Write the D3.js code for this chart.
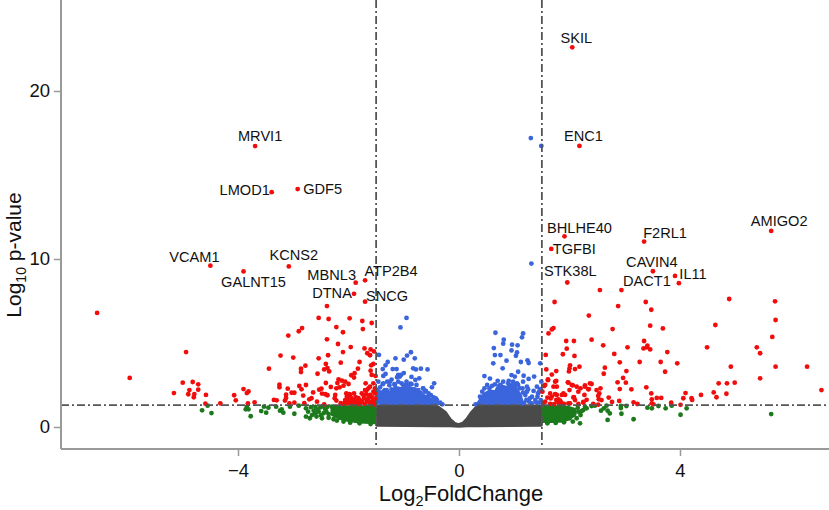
<!DOCTYPE html>
<html>
<head>
<meta charset="utf-8">
<script src="https://cdn.jsdelivr.net/npm/d3@7"></script>
<style>
  html, body { margin: 0; padding: 0; background: #fff; }
  svg { display: block; }
  text { font-family: "Liberation Sans", Arial, sans-serif; fill: #111; }
</style>
</head>
<body>
<svg width="829" height="510"></svg>
<script>
// thresholds
const foldCut = 1.5;
const pCut = 1.3;
const xTicks = [-4, 0, 4];
const yTicks = [0, 10, 20];

// labelled genes
const geneNames = ["MRVI1", "LMOD1", "GDF5", "VCAM1", "GALNT15", "KCNS2", "MBNL3", "ATP2B4", "DTNA", "SNCG",
    "SKIL", "ENC1", "BHLHE40", "TGFBI", "STK38L", "F2RL1", "CAVIN4", "DACT1", "IL11", "AMIGO2"];
const geneX = [-3.69, -3.39, -2.92, -4.5, -3.9, -3.08, -1.87, -1.7, -1.9, -1.7,
    2.05, 2.18, 1.91, 1.67, 1.96, 3.35, 3.51, 3.98, 3.91, 5.65];
const geneY = [16.72, 13.98, 14.16, 9.6, 9.26, 9.56, 8.59, 8.73, 7.93, 7.46,
    22.6, 16.73, 11.35, 10.6, 8.6, 11.04, 9.27, 8.56, 8.99, 11.67];

// the solid parts of the cloud, points too dense to read one by one: x, upper edge, lower edge
const greyEdgeX = [-1.49, -0.42, -0.38, -0.25, -0.16, -0.08, -0.01, 0.07, 0.14, 0.23, 0.32, 0.36, 1.49];
const greyTop = [1.24, 1.24, 1.2, 0.88, 0.46, 0.22, 0.14, 0.22, 0.46, 0.88, 1.2, 1.24, 1.24];
const greyBottom = [0.1, 0.08, 0.08, 0.08, 0.08, 0.06, 0.05, 0.06, 0.08, 0.08, 0.08, 0.08, 0.1];

const greenLeftX = [-2.3, -2.15, -2, -1.8, -1.52];
const greenLeftTop = [1.2, 1.2, 1.2, 1.2, 1.2];
const greenLeftBottom = [0.75, 0.5, 0.38, 0.3, 0.26];
const greenRightX = [1.52, 1.7, 1.9, 2, 2.1];
const greenRightTop = [1.2, 1.2, 1.2, 1.15, 1.05];
const greenRightBottom = [0.32, 0.32, 0.36, 0.5, 0.75];

const blueLeftX = [-1.44, -1.35, -1.25, -1.15, -1.05, -0.95, -0.85, -0.75, -0.65, -0.58, -0.5, -0.42, -0.36];
const blueLeftTop = [1.9, 2.25, 2.05, 2.35, 2.3, 2.4, 2.3, 2.15, 1.9, 1.75, 1.6, 1.45, 1.38];
const blueRightX = [0.33, 0.45, 0.56, 0.66, 0.72, 0.86, 0.98, 1.06, 1.12];
const blueRightTop = [1.35, 1.95, 2.15, 2.1, 2.5, 2.35, 2.6, 2.15, 1.85];

const redPoints = [
    [-6.55, 6.79], [-4.94, 4.46], [-5.96, 2.92], [-5, 2.64], [-4.82, 2.68], [-4.72, 2.54], [-4.88, 2.2], [-4.72, 2.22],
    [-5.16, 2.02], [-4.9, 1.95], [-4.79, 1.96], [-4.8, 1.77], [-4.58, 1.91], [-4.59, 1.39], [-4.32, 1.41], [-4.07, 1.89],
    [-4.04, 1.59], [-3.9, 2.26], [-3.81, 2.12], [-3.84, 2.02], [-3.82, 1.41], [-3.7, 1.47], [-3.44, 3.47], [-3.23, 4.25],
    [-3, 4.13], [-3.09, 5.44], [-2.9, 5.7], [-2.84, 5.89], [-2.54, 6.49], [-2.36, 6.43], [-2.39, 7.2], [-1.98, 6.47],
    [-1.75, 6.31], [-1.58, 6.19], [-1.74, 5.83], [-2.22, 5.95], [-2.1, 5.64], [-2.39, 5.22], [-2.19, 4.94], [-1.96, 4.76],
    [-2.1, 4.46], [-2.37, 4.27], [-2.54, 4.09], [-1.71, 4.68], [-1.6, 4.62], [-1.54, 4.5], [-1.66, 4.39], [-1.61, 4.27],
    [-1.8, 3.87], [-2.14, 3.83], [-2.41, 3.75], [-2.78, 3.65], [-2.86, 3.47], [-2.86, 3.27], [-2.56, 3.17], [-2.44, 3.43],
    [-2.38, 3.51], [-2.35, 3.31], [-1.83, 3.47], [-1.89, 3.2], [-1.95, 3.08], [-1.9, 2.94], [-1.6, 3.35], [-1.55, 3.75],
    [-1.59, 3.67], [-1.58, 3.1], [-1.51, 3.04], [-2.41, 2.62], [-2.18, 2.84], [-2.12, 2.76], [-2.06, 2.7], [-2, 2.56],
    [-2.2, 2.62], [-2.09, 2.46], [-2.16, 2.36], [-2.22, 2.3], [-2.32, 2.38], [-2.49, 2.28], [-2.53, 2.22], [-2.64, 2.06],
    [-2.48, 1.99], [-2.42, 1.95], [-2.38, 1.89], [-2.82, 1.87], [-3.25, 2.52], [-3.25, 2.36], [-3.1, 2.28], [-3.03, 2.04],
    [-2.98, 2.04], [-2.89, 2.44], [-2.85, 2.24], [-2.77, 2.5], [-3.13, 1.92], [-3.13, 1.73], [-3.15, 1.57], [-3.35, 1.61],
    [-3.3, 1.59], [-2.98, 1.45], [-2.71, 1.65], [-2.67, 1.71], [-2.57, 1.51], [-2.24, 1.91], [-2.25, 1.71], [-2.22, 1.57],
    [-2.04, 2], [-2.03, 1.8], [-1.98, 1.96], [-1.9, 2], [-2.06, 1.6], [-2, 1.51], [-1.94, 1.61], [-1.88, 1.51],
    [-1.82, 1.65], [-1.76, 1.51], [-1.72, 1.71], [-1.76, 2], [-1.7, 2.2], [-1.64, 2.3], [-1.69, 2.6], [-1.55, 2.6],
    [-1.61, 1.91], [-1.52, 2], [-1.56, 1.6], [-1.51, 1.7], [-1.64, 1.51], [-1.52, 2.3], [-1.97, 1.9], [-1.91, 1.6],
    [-2.06, 1.5], [-1.82, 1.71], [-1.73, 1.9], [-1.67, 2.2], [-1.61, 2.4], [-1.55, 2.1], [-1.64, 1.71], [-1.54, 1.5],
    [-1.76, 1.47], [-1.85, 1.41], [-1.97, 1.41], [-2.03, 1.41], [-2.09, 1.38], [-1.92, 1.36], [-1.79, 1.36], [-1.7, 1.38],
    [-1.6, 1.36], [-1.53, 1.35], [-1.95, 1.72], [-1.58, 1.8], [-1.68, 1.95], [-2.44, 1.35], [-2.8, 1.42], [-3.07, 1.4],
    [-2.14, 1.42], [-2.01, 1.72], [-1.87, 1.78], [-1.79, 1.56], [-1.67, 1.56], [-1.58, 1.48], [-1.52, 1.55], [-1.86, 1.38],
    // right of the cut
    [2.55, 8.15], [2.94, 8.15], [1.73, 7.44], [4.89, 7.62], [5.72, 7.48], [2.88, 7.2], [3.38, 7.44], [3.48, 6.98],
    [2.35, 6.63], [5.73, 6.37], [4.64, 6.07], [3.46, 6.03], [3.69, 5.87], [2.78, 5.83], [1.71, 5.89], [1.68, 5.81],
    [1.62, 5.57], [5.67, 5.36], [1.94, 5.12], [2.08, 5.12], [2.4, 5.2], [3.35, 5.12], [2.61, 4.86], [3.05, 4.74],
    [4.49, 4.74], [5.39, 4.74], [5.45, 4.39], [3.41, 4.84], [3.34, 4.68], [3.4, 4.74], [3.46, 4.62], [1.95, 4.66],
    [1.88, 4.33], [2.09, 4.23], [1.57, 4.29], [2.81, 4.35], [3.77, 4.46], [2.91, 3.85], [3.27, 3.87], [3.65, 3.87],
    [3.95, 3.79], [4.92, 3.59], [5.73, 3.59], [6.3, 3.59], [2.01, 3.67], [2, 3.49], [1.99, 3.31], [2.1, 3.45],
    [2.18, 3.59], [1.58, 3.43], [1.76, 3.33], [1.68, 3.12], [2.64, 3.53], [2.62, 3.17], [3.03, 3.33], [3.73, 3.29],
    [2.97, 2.92], [2.87, 2.66], [3.02, 2.64], [5.45, 2.9], [1.61, 2.84], [1.76, 2.74], [4.7, 2.6], [4.85, 2.6],
    [4.99, 2.64], [6.56, 2.2], [2.91, 2.26], [3.12, 2.24], [3.39, 2.36], [3.48, 2], [4.1, 2.02], [4.61, 2.06],
    [4.84, 1.98], [4.38, 1.91], [4.66, 1.77], [4.06, 1.71], [4.21, 1.71], [4.22, 1.61], [3.49, 1.65], [3.58, 1.73],
    [3.66, 1.73], [3.49, 1.41], [3.84, 1.45], [3.52, 1.35], [4.01, 1.32], [3.23, 1.37], [3.16, 1.47], [2.9, 1.55],
    [2.77, 1.49], [2.71, 1.75], [2.56, 2.3], [2.54, 2], [2.52, 1.85], [2.53, 1.65], [2.49, 2.2], [2.4, 2.56],
    [2.35, 2.26], [2.28, 2.48], [2.27, 1.91], [2.2, 2.3], [2.13, 2.4], [2.06, 2.48], [1.97, 2.66], [2, 2.2],
    [2.08, 1.77], [1.92, 1.91], [1.77, 1.91], [1.71, 2.4], [1.77, 2.4], [1.54, 2.44], [1.51, 2.1], [1.65, 2],
    [1.68, 1.81], [1.86, 1.91], [1.8, 1.65], [1.76, 1.61], [1.83, 1.57], [1.78, 1.5], [1.56, 1.51], [1.65, 1.38],
    [2.01, 1.41], [2.16, 1.37], [2.25, 1.45], [2.43, 1.37], [2.52, 1.33], [1.53, 1.42], [1.72, 1.36], [1.56, 2.5],
    [1.61, 2.79], [1.74, 2.7], [1.98, 2.64], [2.04, 2.5], [2.16, 2.1], [2.28, 2.4], [2.37, 2.6], [2.58, 1.6],
    [2.07, 1.76], [1.89, 2], [1.74, 1.96], [1.66, 1.7], [1.6, 1.75], [1.98, 1.4], [2.25, 1.5], [2.34, 2.24],
    [1.85, 1.45], [1.9, 1.38], [1.82, 1.36], [2.1, 1.6], [2.31, 1.62]
];

const greenPoints = [
    [-4.65, 0.99], [-4.48, 0.83], [-4.55, 1.27], [-3.77, 0.64], [-3.86, 1.05], [-3.81, 1.05], [-3.84, 1.19], [-3.58, 0.95],
    [-3.49, 0.85], [-3.53, 1.21], [-3.45, 1.15], [-3.31, 1.21], [-3.24, 0.97], [-3.21, 1.05], [-3.18, 0.85], [-3.06, 1.21],
    [-2.98, 0.79], [-2.9, 1.27], [-2.77, 1.11], [-2.73, 0.91], [-2.77, 0.62], [-2.7, 0.52], [-2.66, 0.71], [-2.63, 0.97],
    [-2.54, 0.91], [-2.58, 0.62], [-2.48, 0.52], [-2.45, 0.82], [-2.42, 1.05], [-2.51, 1.17], [-2.36, 0.77], [-2.3, 1.21],
    [-2.27, 0.46], [-2.21, 0.38], [-2.09, 0.32], [-1.97, 0.26], [-2.6, 1.2], [-2.38, 1.2], [-2.36, 0.55], [-1.8, 0.22],
    [-1.6, 0.18], [-2.68, 1.18], [-2.46, 1.22], [-2.56, 1.04], [-2.4, 0.9], [-2.6, 0.8], [-2.5, 0.7],
    [2.69, 0.42], [3.16, 0.46], [2.94, 0.79], [5.65, 0.77], [4.01, 0.73], [4.12, 1.11], [3.85, 1.27], [3.74, 1.11],
    [3.61, 1.25], [3.49, 1.11], [3.41, 1.15], [3.03, 1.25], [2.93, 1.25], [2.93, 1.13], [2.73, 0.81], [2.69, 0.97],
    [2.57, 0.97], [2.62, 1.11], [2.67, 1.27], [2.19, 0.22], [2.06, 0.32], [2.13, 0.52], [2.2, 0.71], [2.16, 0.91],
    [2.25, 1.01], [2.31, 1.11], [2.4, 1.25], [2.04, 1.01], [1.95, 0.71], [2.07, 0.71], [2, 0.52], [1.82, 1.25],
    [2.46, 1.27], [2.28, 1.21], [1.6, 0.22], [1.75, 0.24], [1.9, 0.28], [2.15, 1.15], [2.22, 0.95]
];

const bluePoints = [
    [-0.95, 6.49], [-1.06, 5.93], [-0.87, 4.45], [-0.94, 4.25], [-1, 4.01], [-0.8, 4.09], [-1.15, 4.09], [-1.29, 3.87],
    [-1.33, 3.67], [-1.38, 3.45], [-1.45, 4.29], [-1.2, 3.45], [-1.13, 3.45], [-0.83, 3.49], [-0.78, 3.43], [-0.69, 3.47],
    [-0.57, 3.43], [-1.1, 3.1], [-1.07, 3], [-1.12, 2.96], [-1.05, 3.1], [-1, 3.21], [-1.33, 3.16], [-1.37, 3.04],
    [-0.86, 2.98], [-0.72, 2.9], [-0.79, 2.8], [-1.22, 2.82], [-1.3, 2.7], [-0.45, 2.6], [-0.49, 2.36], [-0.65, 2.3],
    [-1.43, 2.36], [-1.38, 2.55], [-1.26, 2.48], [-1.17, 2.55], [-1.04, 2.6], [-0.95, 2.5], [-0.88, 2.58], [-1.47, 1.9],
    [-1.46, 2.7], [-0.7, 2.05], [-0.6, 2.15], [-0.55, 1.85], [-0.42, 1.7], [-0.34, 1.45], [-0.3, 1.35], [-1.48, 1.5],
    [-1.37, 2.6], [-1.31, 2.2], [-1.25, 2.7], [-1.22, 2.24], [-1.16, 2.5], [-1.1, 2.7], [-1.01, 2.5], [-0.95, 2.7],
    [-0.92, 2.4], [-0.86, 2.55], [-0.81, 2.24], [-0.77, 2.5], [-0.74, 2.2], [-0.65, 2.3], [-0.62, 2.1], [-0.55, 2],
    [-0.51, 1.9], [-0.46, 1.76], [-0.4, 1.6], [-0.58, 1.76], [-0.68, 1.9], [-0.52, 1.6], [-0.45, 1.5], [-1.47, 1.65],
    [-1.45, 2.1], [-1.41, 1.75], [-1.49, 2.2],
    [1.49, 16.73], [1.3, 17.2], [1.31, 9.73],
    [0.66, 5.61], [1.16, 5.57], [1.14, 5.34], [0.81, 5.2], [0.8, 4.96], [0.63, 4.7], [0.96, 4.9], [1.06, 4.86],
    [0.95, 4.56], [1.05, 4.44], [1.03, 4.24], [0.65, 4.28], [0.75, 4.28], [0.86, 3.95], [0.62, 3.79], [0.79, 3.49],
    [1.12, 3.87], [1.24, 3.97], [1.26, 3.81], [1.47, 3.79], [1.07, 3.29], [0.95, 3.09], [1.01, 3], [1.17, 3.05],
    [1.36, 3], [1.26, 2.86], [0.46, 3.03], [0.56, 2.88], [0.51, 2.5], [0.65, 2.54], [0.75, 2.5], [0.89, 2.6],
    [0.98, 2.7], [1.07, 2.5], [1.16, 2.7], [1.23, 2.4], [1.41, 2.4], [1.49, 2.7], [1.45, 2.1], [1.32, 1.8],
    [1.23, 2.1], [1.1, 2.3], [1.01, 2.1], [1.38, 1.6], [1.45, 1.45], [1.27, 1.5], [0.3, 1.35], [1.42, 1.8],
    [1.12, 1.6], [1.18, 1.45], [1.2, 1.9], [1.28, 1.7], [1.32, 1.4], [1.4, 1.45], [1.43, 2], [1.35, 2.15],
    [1.15, 2.3], [1.25, 2.25], [1.05, 2.6], [0.9, 2.75], [0.8, 2.7], [0.7, 2.75], [0.6, 2.45], [0.55, 2.3],
    [0.42, 2.1], [0.38, 1.8], [0.46, 2.3], [1.16, 2.05], [1.22, 1.62], [1.14, 1.38], [1.48, 1.6], [1.47, 2.25]
];

const svg = d3.select("svg");

const x = d3.scaleLinear().domain([-4, 4]).range([238, 680]);
const y = d3.scaleLinear().domain([0, 20]).range([427, 91]);
const plotLeft = 61, plotRight = 829, plotTop = 0, plotBottom = 449;
const dotR = 2.4;

const colors = { grey: "#4a4a4a", green: "#1c7a1c", blue: "#3b65dc", red: "#f20d0d" };

// solid regions
function drawCore(xs, top, bottom, color) {
    const band = d3.area()
        .x((d, i) => x(xs[i]))
        .y0((d, i) => y(bottom[i]))
        .y1((d, i) => y(top[i]));
    svg.append("path")
        .attr("d", band(xs))
        .attr("fill", color)
        .attr("stroke", color)
        .attr("stroke-width", 3)
        .attr("stroke-linejoin", "round");
}

function drawDots(points, color) {
    svg.append("g").selectAll("circle")
        .data(points)
        .enter()
        .append("circle")
        .attr("cx", d => x(d[0]))
        .attr("cy", d => y(d[1]))
        .attr("r", dotR)
        .attr("fill", color);
}

drawCore(greyEdgeX, greyTop, greyBottom, colors.grey);
drawCore(greenLeftX, greenLeftTop, greenLeftBottom, colors.green);
drawCore(greenRightX, greenRightTop, greenRightBottom, colors.green);
drawCore(blueLeftX, blueLeftTop, blueLeftX.map(() => pCut + 0.1), colors.blue);
drawCore(blueRightX, blueRightTop, blueRightX.map(() => pCut + 0.1), colors.blue);

drawDots(greenPoints, colors.green);
drawDots(bluePoints, colors.blue);
drawDots(redPoints, colors.red);
drawDots(geneX.map((d, i) => [d, geneY[i]]), colors.red);

// cut lines
const dash = "8 3 2 3";
[-foldCut, foldCut].forEach(v => {
    svg.append("line")
        .attr("x1", x(v)).attr("x2", x(v))
        .attr("y1", plotTop).attr("y2", plotBottom)
        .attr("stroke", "#555").attr("stroke-width", 1.8)
        .attr("stroke-dasharray", dash);
});
svg.append("line")
    .attr("x1", plotLeft).attr("x2", plotRight)
    .attr("y1", y(pCut)).attr("y2", y(pCut))
    .attr("stroke", "#555").attr("stroke-width", 1.8)
    .attr("stroke-dasharray", dash);

// axes
const xAxis = svg.append("g")
    .attr("transform", `translate(0, ${plotBottom})`)
    .call(d3.axisBottom(x).tickValues(xTicks).tickSize(7).tickPadding(8).tickFormat(d => d < 0 ? "\u2212" + Math.abs(d) : d));
const yAxis = svg.append("g")
    .attr("transform", `translate(${plotLeft}, 0)`)
    .call(d3.axisLeft(y).tickValues(yTicks).tickSize(7).tickPadding(4));
xAxis.select(".domain").attr("d", `M${plotLeft},0H${plotRight}`);
yAxis.select(".domain").attr("d", `M0,${plotTop}V${plotBottom}`);
[xAxis, yAxis].forEach(a => {
    a.select(".domain").attr("stroke", "#999").attr("stroke-width", 2);
    a.selectAll(".tick line").attr("stroke", "#999").attr("stroke-width", 1.5);
    a.selectAll(".tick text").attr("font-size", 18.5).attr("font-family", "Liberation Sans").attr("fill", "#111");
});

// gene labels, offset from their point
const labelDx = [5, -27, 25, -16, 10, 5, -24, 26, -22, 22, 4, 4, 15, 23, 3, 21, -1, -32, 18, 8];
const labelDy = [-10, -2, 0, -9, 10, -12, -8, -10, -1, -6, -10, -10, -9, 0, -12, -9, -10, -2, -2, -10];
svg.append("g").selectAll("text")
    .data(geneNames)
    .enter()
    .append("text")
    .attr("x", (d, i) => x(geneX[i]) + labelDx[i])
    .attr("y", (d, i) => y(geneY[i]) + labelDy[i])
    .attr("dy", "0.36em")
    .attr("text-anchor", "middle")
    .attr("font-size", 14.6)
    .text(d => d);

// axis titles
const xTitle = svg.append("text")
    .attr("x", 461)
    .attr("y", 500.5)
    .attr("text-anchor", "middle")
    .attr("font-size", 22);
xTitle.append("tspan").text("Log");
xTitle.append("tspan").attr("font-size", 14.5).attr("dy", 5).text("2");
xTitle.append("tspan").attr("dy", -5).text("FoldChange");

const yTitle = svg.append("text")
    .attr("transform", "translate(21, 255) rotate(-90)")
    .attr("text-anchor", "middle")
    .attr("font-size", 21);
yTitle.append("tspan").text("Log");
yTitle.append("tspan").attr("font-size", 14).attr("dy", 5).text("10");
yTitle.append("tspan").attr("dy", -5).text(" p-value");
</script>
</body>
</html>
